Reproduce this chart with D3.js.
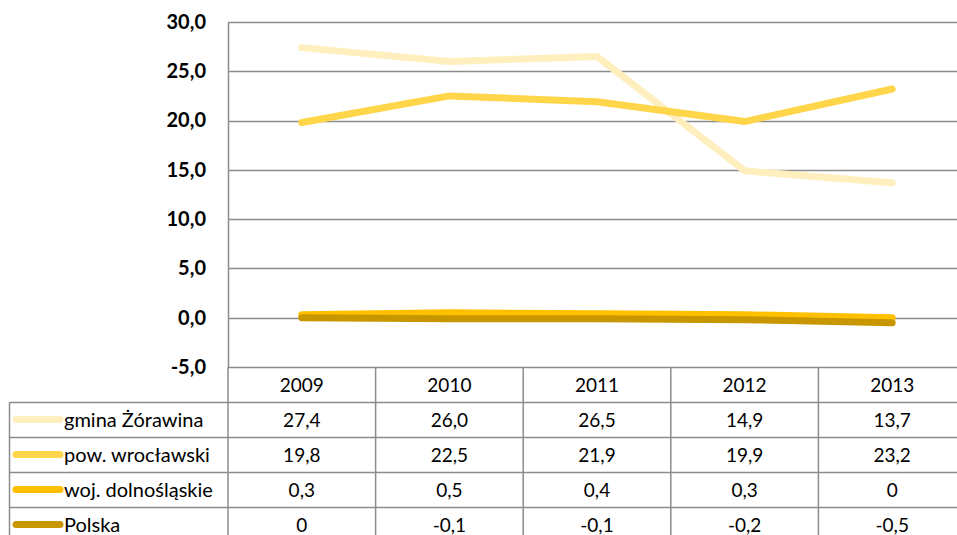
<!DOCTYPE html>
<html>
<head>
<meta charset="utf-8">
<script src="https://cdn.jsdelivr.net/npm/d3@7"></script>
<style>
  body { margin: 0; background: #fff; }
  svg { font-family: Lato, "Open Sans", sans-serif; }
</style>
</head>
<body>
<script>
// data
var years = ["2009", "2010", "2011", "2012", "2013"];
var seriesNames = ["gmina Żórawina", "pow. wrocławski", "woj. dolnośląskie", "Polska"];
var gmina = [27.4, 26.0, 26.5, 14.9, 13.7];
var powiat = [19.8, 22.5, 21.9, 19.9, 23.2];
var woj = [0.3, 0.5, 0.4, 0.3, 0];
var polska = [0, -0.1, -0.1, -0.2, -0.5];
var tableText = [
  ["27,4", "26,0", "26,5", "14,9", "13,7"],
  ["19,8", "22,5", "21,9", "19,9", "23,2"],
  ["0,3", "0,5", "0,4", "0,3", "0"],
  ["0", "-0,1", "-0,1", "-0,2", "-0,5"]
];
var yTicks = [-5, 0, 5, 10, 15, 20, 25, 30];
var colors = ["#FFEEBE", "#FFD54A", "#FFC000", "#C89700"];

var allSeries = [gmina, powiat, woj, polska];

var width = 957, height = 535;
var plotLeft = 228, plotRight = 966, plotTop = 22, plotBottom = 367;
var rowH = 35, tableLeft = 9.5;

var svg = d3.select("body").append("svg")
  .attr("width", width)
  .attr("height", height);

var x = d3.scaleBand().domain(years).range([plotLeft, plotRight]);
var y = d3.scaleLinear().domain([-5, 30]).range([plotBottom, plotTop]);

var gridColor = "#8c8c8c";

// horizontal gridlines
svg.append("g").selectAll("line")
  .data(yTicks)
  .enter().append("line")
  .attr("x1", plotLeft).attr("x2", plotRight)
  .attr("y1", function(d) { return Math.round(y(d)) + 0.5; })
  .attr("y2", function(d) { return Math.round(y(d)) + 0.5; })
  .attr("stroke", gridColor).attr("stroke-width", 1.5);

// y axis (hyphen minus like the original)
var yAxis = svg.append("g")
  .attr("transform", "translate(" + plotLeft + ",0)")
  .call(d3.axisLeft(y).tickValues(yTicks).tickSize(0).tickPadding(22)
    .tickFormat(function(d) { return d.toFixed(1).replace(".", ","); }));
yAxis.select(".domain").attr("stroke", gridColor).attr("stroke-width", 1.5);
yAxis.selectAll("text")
  .attr("font-size", "20px").attr("font-weight", "bold").attr("fill", "#000")
  .attr("font-family", "Lato, sans-serif");

// vertical lines of the table (category separators)
var tableBottom = plotBottom + rowH * 5;
var seps = years.map(function(d) { return x(d); }).concat([plotRight]);
svg.append("g").selectAll("line")
  .data(seps)
  .enter().append("line")
  .attr("x1", function(d) { return d; }).attr("x2", function(d) { return d; })
  .attr("y1", plotBottom).attr("y2", tableBottom)
  .attr("stroke", gridColor).attr("stroke-width", 1.5);

// table left border and row lines
svg.append("line")
  .attr("x1", tableLeft).attr("x2", tableLeft)
  .attr("y1", plotBottom + rowH).attr("y2", tableBottom)
  .attr("stroke", gridColor).attr("stroke-width", 1.5);
svg.append("g").selectAll("line")
  .data(d3.range(1, 5))
  .enter().append("line")
  .attr("x1", tableLeft).attr("x2", plotRight)
  .attr("y1", function(i) { return plotBottom + rowH * i + 0.5; })
  .attr("y2", function(i) { return plotBottom + rowH * i + 0.5; })
  .attr("stroke", gridColor).attr("stroke-width", 1.5);

// year header
svg.append("g").selectAll("text")
  .data(years)
  .enter().append("text")
  .attr("x", function(d) { return x(d) + x.bandwidth() / 2; })
  .attr("y", plotBottom + rowH / 2 + 7)
  .attr("text-anchor", "middle")
  .attr("font-size", "19px")
  .text(function(d) { return d; });

// table rows
var rows = svg.append("g").selectAll("g")
  .data(seriesNames)
  .enter().append("g")
  .attr("transform", function(d, i) { return "translate(0," + (plotBottom + rowH * (i + 1)) + ")"; });

rows.append("line")
  .attr("x1", 16).attr("x2", 60)
  .attr("y1", rowH / 2).attr("y2", rowH / 2)
  .attr("stroke", function(d, i) { return colors[i]; })
  .attr("stroke-width", 7)
  .attr("stroke-linecap", "round");

rows.append("text")
  .attr("x", 64).attr("y", rowH / 2 + 7)
  .attr("font-size", "20px")
  .text(function(d) { return d; });

rows.each(function(d, i) {
  d3.select(this).selectAll("text.val")
    .data(tableText[i])
    .enter().append("text")
    .attr("class", "val")
    .attr("x", function(v, j) { return x(years[j]) + x.bandwidth() / 2; })
    .attr("y", rowH / 2 + 7)
    .attr("text-anchor", "middle")
    .attr("font-size", "19px")
    .text(function(v) { return v; });
});

// lines
var line = d3.line()
  .x(function(d, i) { return x(years[i]) + x.bandwidth() / 2; })
  .y(function(d) { return y(d); });

svg.append("g").selectAll("path")
  .data(allSeries)
  .enter().append("path")
  .attr("d", line)
  .attr("fill", "none")
  .attr("stroke", function(d, i) { return colors[i]; })
  .attr("stroke-width", 7)
  .attr("stroke-linecap", "round")
  .attr("stroke-linejoin", "round");
</script>
</body>
</html>
